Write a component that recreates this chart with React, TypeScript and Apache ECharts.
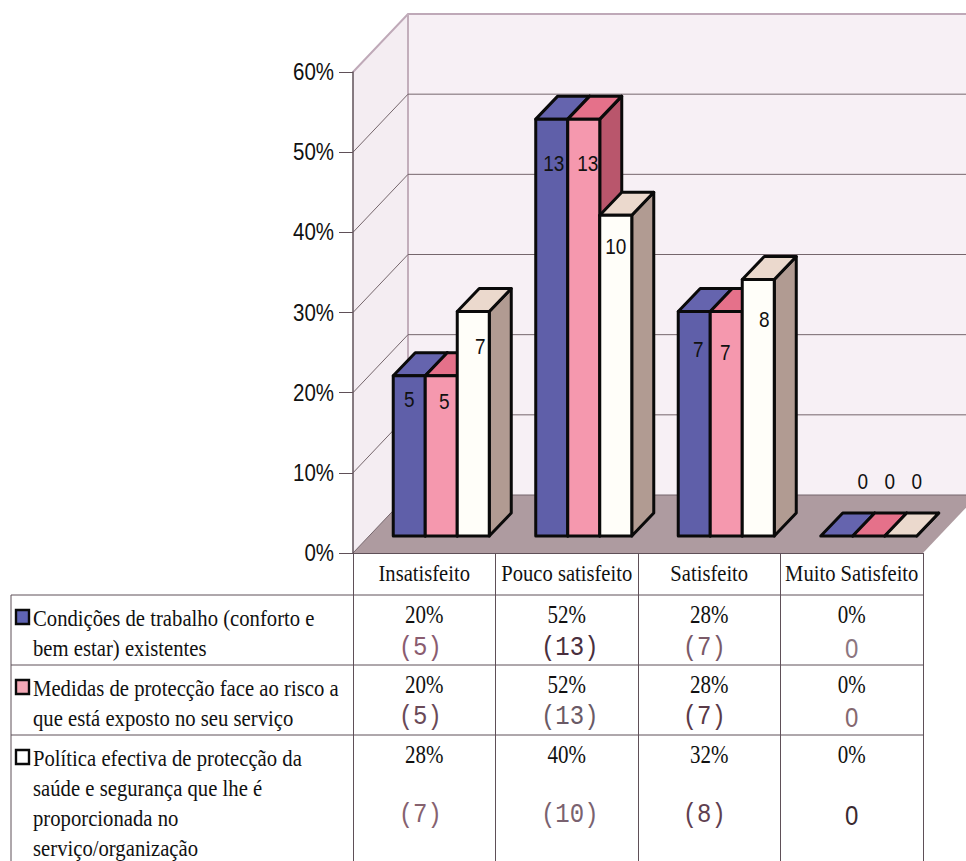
import React, { useEffect, useRef } from "react";
import * as echarts from "echarts";

// Satisfaction survey: share of answers and answer counts per category
const categories = ["Insatisfeito", "Pouco satisfeito", "Satisfeito", "Muito Satisfeito"];
const pctCondicoes = [20, 52, 28, 0];
const pctMedidas = [20, 52, 28, 0];
const pctPolitica = [28, 40, 32, 0];
const countCondicoes = [5, 13, 7, 0];
const countMedidas = [5, 13, 7, 0];
const countPolitica = [7, 10, 8, 0];
const yTicks = [0, 10, 20, 30, 40, 50, 60];
const legendCondicoes = ["Condições de trabalho (conforto e", "bem estar) existentes"];
const legendMedidas = ["Medidas de protecção face ao risco a", "que está exposto no seu serviço"];
const legendPolitica = [
  "Política efectiva de protecção da",
  "saúde e segurança que lhe é",
  "proporcionada no",
  "serviço/organização",
];

// Oblique projection of the chart box and of the bars
const WALL_DX = 55;
const WALL_DY = 58;
const BAR_DX = 22;
const BAR_DY = 23;
const PLANE_DX = 17;
const PLANE_DY = 17;
const BAR_RATIO = 0.2246;

const SANS = '"Liberation Sans", Arial, sans-serif';
const SERIF = '"Liberation Serif", "Times New Roman", serif';
const MONO = '"Liberation Mono", monospace';
const LINE = "#5f5058";
const TEXT_STRETCH = 1.15;
const SANS_STRETCH = 1.2;

const palette = [
  { front: "#5f5fa9", top: "#6564ae", side: "#4c4c8c", swatch: "#5f64b4" },
  { front: "#f598ae", top: "#e5718a", side: "#b9566c", swatch: "#f3a8b6" },
  { front: "#fffef9", top: "#ebd9cd", side: "#b19b92", swatch: "#ffffff" },
];

// Nudges of the count labels relative to each bar (dx, dy from the top front edge)
const labelNudges = [
  [[0, 23], [2, 44], [4, 37], [26, -55]],
  [[3, 25], [4, 44], [-1, 40], [21, -55]],
  [[7, 34], [0, 31], [6, 39], [16, -55]],
];

const seriesPct = [pctCondicoes, pctMedidas, pctPolitica];
const seriesCount = [countCondicoes, countMedidas, countPolitica];
const seriesLegend = [legendCondicoes, legendMedidas, legendPolitica];

const TABLE_LEFT = 11;
const ROW_TOPS = [595, 665, 735];
const HAND_Y = [648, 717, 815];
const HAND_DX = [-4, 3, -5, 0];
const HAND_COLORS = [
  ["#8a5c70", "#4a2f3e", "#7a5a68", "#8c7680"],
  ["#6a4a58", "#6a5a66", "#5a3a48", "#85686f"],
  ["#86626f", "#7a6270", "#5f4050", "#3a2a30"],
];

// Text stretched vertically around its own anchor point
function tallText(
  x: number,
  y: number,
  text: string,
  font: string,
  fill: string,
  align = "center",
  stretch = TEXT_STRETCH
) {
  return {
    type: "text",
    x,
    y,
    scaleY: stretch,
    style: { x: 0, y: 0, text, fill, font, align, verticalAlign: "middle" },
  };
}

function renderWalls(params: any, api: any) {
  const cs = params.coordSys;
  const yTop = cs.y;
  const yBase = cs.y + cs.height;
  const xL = cs.x;
  const xR = cs.x + cs.width;
  const bx = xL + WALL_DX;
  const by = yBase - WALL_DY;
  const tops = yTop - WALL_DY;
  return {
    type: "group",
    children: [
      {
        type: "polygon",
        shape: { points: [[bx, tops], [xR + WALL_DX, tops], [xR + WALL_DX, by], [bx, by]] },
        style: { fill: "#f7f0f5" },
      },
      {
        type: "polygon",
        shape: { points: [[xL, yTop], [bx, tops], [bx, by], [xL, yBase]] },
        style: { fill: "#f4edf2" },
      },
      {
        type: "polygon",
        shape: { points: [[xL, yBase], [bx, by], [xR + WALL_DX, by], [xR, yBase]] },
        style: { fill: "#ae9ba0" },
      },
      {
        type: "polyline",
        shape: { points: [[xL, yTop], [bx, tops], [xR + WALL_DX, tops]] },
        style: { fill: "none", stroke: "#bfa9b8", lineWidth: 2 },
      },
      {
        type: "line",
        shape: { x1: bx, y1: tops, x2: bx, y2: by },
        style: { stroke: "#c2aebb", lineWidth: 2 },
      },
    ],
  };
}

// One wall gridline per tick: up the side wall, then along the back wall, plus the tick's label
function renderGridline(params: any, api: any) {
  const cs = params.coordSys;
  const tick = api.value(0);
  const y = api.coord([0, tick])[1];
  const children: any[] = [tallText(cs.x - 19, y, `${tick}%`, `20.5px ${SANS}`, "#111111", "right", SANS_STRETCH)];
  if (tick < 60) {
    children.unshift({
      type: "polyline",
      shape: {
        points: [[cs.x, y], [cs.x + WALL_DX, y - WALL_DY], [cs.x + cs.width + WALL_DX, y - WALL_DY]],
      },
      style: { fill: "none", stroke: "#75666c", lineWidth: 1 },
    });
  }
  return { type: "group", children };
}

function makeBarRenderer(seriesIndex: number) {
  const colors = palette[seriesIndex];
  return (params: any, api: any) => {
    const cat = api.value(0);
    const band = api.size([1, 0])[0];
    const w = band * BAR_RATIO;
    const top = api.coord([cat, api.value(1)]);
    const base = api.coord([cat, 0]);
    const x0 = top[0] + PLANE_DX + (seriesIndex - 1.5) * w;
    const x1 = x0 + w;
    const yT = top[1] - PLANE_DY;
    const yB = base[1] - PLANE_DY;
    const stroke = { stroke: "#0a0a0a", lineWidth: 3, lineJoin: "round" };
    const nudge = labelNudges[seriesIndex][cat];
    return {
      type: "group",
      children: [
        {
          type: "polygon",
          shape: { points: [[x1, yT], [x1 + BAR_DX, yT - BAR_DY], [x1 + BAR_DX, yB - BAR_DY], [x1, yB]] },
          style: { fill: colors.side, ...stroke },
        },
        {
          type: "polygon",
          shape: { points: [[x0, yT], [x0 + BAR_DX, yT - BAR_DY], [x1 + BAR_DX, yT - BAR_DY], [x1, yT]] },
          style: { fill: colors.top, ...stroke },
        },
        ...(api.value(1) > 0
          ? [
              {
                type: "polygon",
                shape: { points: [[x0, yT], [x1, yT], [x1, yB], [x0, yB]] },
                style: { fill: colors.front, ...stroke },
              },
            ]
          : []),
        tallText(
          (x0 + x1) / 2 + nudge[0],
          yT + nudge[1],
          String(api.value(2)),
          `19px ${SANS}`,
          "#111111",
          "center",
          SANS_STRETCH
        ),
      ],
    };
  };
}

// Category names sit in the header row of the table
function renderCategoryName(params: any, api: any) {
  const cat = api.value(0);
  const p = api.coord([cat, 0]);
  return tallText(p[0], p[1] + 20, categories[cat], `20.6px ${SERIF}`, "#111111");
}

// One table cell: printed percentage and the pencilled count beneath it
function renderCell(params: any, api: any) {
  const cat = api.value(0);
  const row = api.value(1);
  const pct = api.value(2);
  const count = api.value(3);
  const cx = api.coord([cat, 0])[0];
  return {
    type: "group",
    children: [
      tallText(cx, ROW_TOPS[row] + 20, `${pct}%`, `21px ${SERIF}`, "#111111"),
      tallText(
        cx + HAND_DX[cat],
        HAND_Y[row],
        count === 0 ? "0" : `(${count})`,
        count === 0 ? `24px ${SANS}` : `24px ${MONO}`,
        HAND_COLORS[row][cat]
      ),
    ],
  };
}

// Left column of the table: rules, colour key and wrapped series names
function renderLegendRow(params: any, api: any) {
  const cs = params.coordSys;
  const row = api.value(0);
  const rowTop = ROW_TOPS[row];
  const lines = seriesLegend[row];
  const children: any[] = [
    {
      type: "line",
      shape: { x1: TABLE_LEFT, y1: rowTop, x2: cs.x + cs.width, y2: rowTop },
      style: { stroke: LINE, lineWidth: 1 },
    },
    {
      type: "rect",
      shape: { x: 16, y: rowTop + 15, width: 13, height: 14 },
      style: { fill: palette[row].swatch, stroke: "#0a0a0a", lineWidth: 2.4 },
    },
  ];
  lines.forEach((text, i) => {
    children.push(tallText(33, rowTop + 23 + i * 30, text, `20.7px ${SERIF}`, "#111111", "left"));
  });
  return { type: "group", children };
}

export default function App() {
  const ref = useRef<HTMLDivElement>(null);

  useEffect(() => {
    const chart = echarts.init(ref.current!, undefined, { renderer: "svg" });
    const barSeries = seriesPct.map((values, s) => ({
      type: "custom",
      name: seriesLegend[s].join(" "),
      renderItem: makeBarRenderer(s),
      encode: { x: 0, y: 1 },
      clip: false,
      data: values.map((v, i) => [i, v, seriesCount[s][i]]),
    }));
    const cellData: number[][] = [];
    seriesPct.forEach((values, r) =>
      values.forEach((v, c) => cellData.push([c, r, v, seriesCount[r][c]]))
    );
    chart.setOption({
      animation: false,
      backgroundColor: "#ffffff",
      tooltip: { show: false },
      grid: { left: 353, top: 72, width: 570, height: 481, containLabel: false },
      xAxis: {
        type: "category",
        data: categories,
        z: 5,
        axisLine: { show: true, lineStyle: { color: LINE, width: 1 } },
        axisTick: { show: true, length: 308, alignWithLabel: false, lineStyle: { color: LINE, width: 1 } },
        axisLabel: { show: false },
        splitLine: { show: false },
      },
      yAxis: {
        type: "value",
        min: 0,
        max: 60,
        interval: 10,
        z: 5,
        axisLine: { show: true, lineStyle: { color: LINE, width: 1.5 } },
        axisTick: { show: true, length: 14, lineStyle: { color: LINE, width: 1 } },
        axisLabel: { show: false },
        splitLine: { show: false },
      },
      series: [
        {
          type: "custom",
          renderItem: renderWalls,
          clip: false,
          silent: true,
          data: [[0, 0]],
          encode: { x: 0, y: 1 },
        },
        {
          type: "custom",
          renderItem: renderGridline,
          clip: false,
          silent: true,
          data: yTicks.map((t) => [t]),
          encode: { y: 0 },
        },
        ...barSeries,
        {
          type: "custom",
          renderItem: renderCategoryName,
          clip: false,
          silent: true,
          data: categories.map((_, i) => [i]),
          encode: { x: 0 },
        },
        {
          type: "custom",
          renderItem: renderLegendRow,
          clip: false,
          silent: true,
          data: [[0], [1], [2]],
          encode: { y: 0 },
        },
        {
          type: "custom",
          renderItem: renderCell,
          clip: false,
          silent: true,
          data: cellData,
          encode: { x: 0 },
        },
        {
          // Left border of the table, running off the bottom of the page
          type: "custom",
          clip: false,
          silent: true,
          data: [[0]],
          renderItem: () => ({
            type: "line",
            shape: { x1: TABLE_LEFT, y1: ROW_TOPS[0], x2: TABLE_LEFT, y2: 861 },
            style: { stroke: LINE, lineWidth: 1 },
          }),
        },
      ],
    });
    return () => chart.dispose();
  }, []);

  return (
    <div
      ref={ref}
      style={{ position: "absolute", left: 0, top: 0, width: 966, height: 861 }}
    />
  );
}
